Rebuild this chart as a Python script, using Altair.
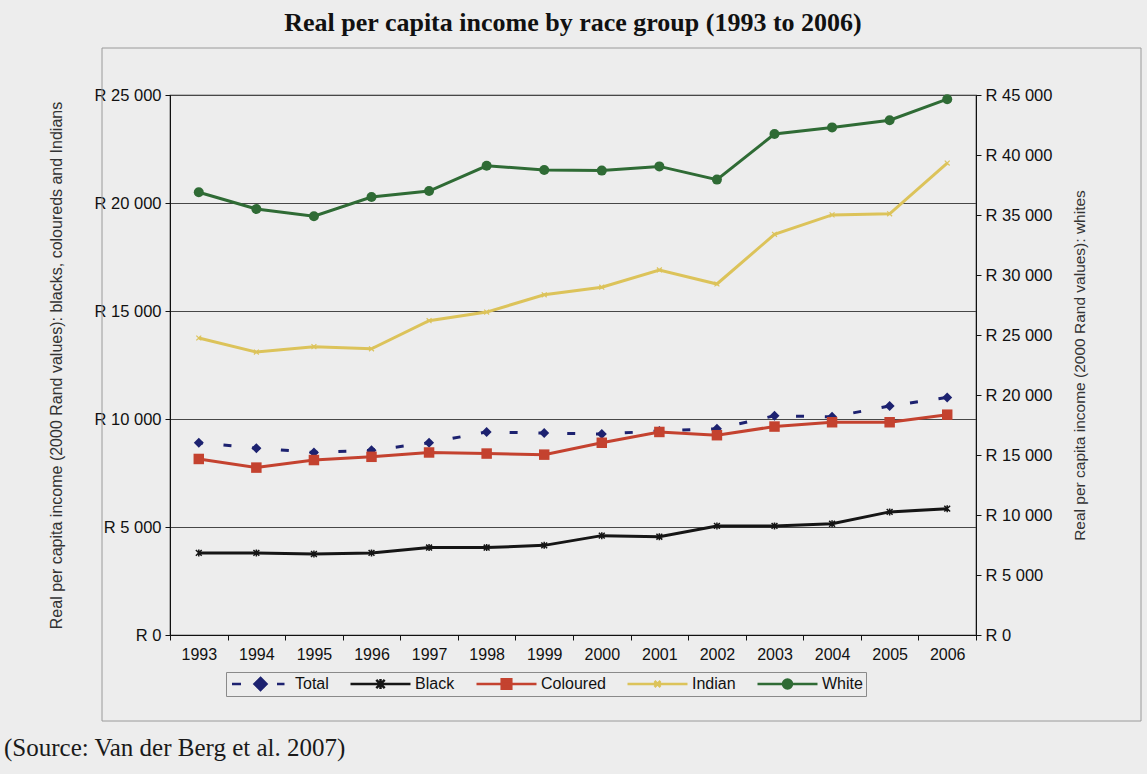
import altair as alt
import pandas as pd

# Real per capita income (2000 Rand values), 1993-2006
years = [1993, 1994, 1995, 1996, 1997, 1998, 1999, 2000, 2001, 2002, 2003, 2004, 2005, 2006]
total = [8900, 8650, 8450, 8550, 8900, 9400, 9350, 9300, 9450, 9550, 10150, 10100, 10600, 11000]
black = [3800, 3800, 3750, 3800, 4050, 4050, 4150, 4600, 4550, 5050, 5050, 5150, 5700, 5850]
coloured = [8150, 7750, 8100, 8250, 8450, 8400, 8350, 8900, 9400, 9250, 9650, 9850, 9850, 10200]
indian = [13750, 13100, 13350, 13250, 14550, 14950, 15750, 16100, 16900, 16250, 18550, 19450, 19500, 21850]
white = [36900, 35500, 34900, 36500, 37000, 39100, 38750, 38700, 39050, 37950, 41750, 42300, 42900, 44650]

series_names = ["Total", "Black", "Coloured", "Indian", "White"]
series_values = [total, black, coloured, indian, white]
series_colors = ["#1d2270", "#151515", "#c4422f", "#dcc35a", "#2f6b35"]

rows = []
for name, vals in zip(series_names, series_values):
    for yr, v in zip(years, vals):
        rows.append({"year": str(yr), "series": name, "value": v})
df = pd.DataFrame(rows)

FONT = "Liberation Sans"
W, H = 806, 540
LEFT, TOP = 170, 95

asterisk = "M-1,-1L1,1M-1,1L1,-1M0,-1.2V1.2"
small_x = "M-1,-1L1,1M-1,1L1,-1"

# marker / line style for every series
styles = {
    "Total": dict(line=dict(strokeWidth=3, strokeDash=[8, 20.8], strokeDashOffset=4),
                  point=dict(shape="diamond", filled=True, size=100)),
    "Black": dict(line=dict(strokeWidth=3),
                  point=dict(shape=asterisk, filled=False, size=34, strokeWidth=1.5)),
    "Coloured": dict(line=dict(strokeWidth=3),
                     point=dict(shape="square", filled=True, size=110)),
    "Indian": dict(line=dict(strokeWidth=3),
                   point=dict(shape=small_x, filled=False, size=24, strokeWidth=1.2)),
    "White": dict(line=dict(strokeWidth=3),
                  point=dict(shape="circle", filled=True, size=100)),
}

# legend swatches: line segment plus the series marker
legend_paths = [
    "M-0.95,0H-0.65M0.55,0H0.8M0,-0.2L0.2,0L0,0.2L-0.2,0Z",
    "M-1,0H1M-0.14,-0.14L0.14,0.14M-0.14,0.14L0.14,-0.14M0,-0.17V0.17",
    "M-1,0H1M-0.16,-0.16H0.16V0.16H-0.16Z",
    "M-1,0H1M-0.1,-0.1L0.1,0.1M-0.1,0.1L0.1,-0.1",
    "M-1,0H1M0.15,0A0.15,0.15,0,1,1,-0.15,0A0.15,0.15,0,1,1,0.15,0Z",
]

rand_label = "'R ' + replace(format(datum.value, ','), ',', ' ')"

x_enc = alt.X(
    "year:O",
    scale=alt.Scale(type="band", paddingInner=0, paddingOuter=0),
    axis=alt.Axis(title=None, labelAngle=0, tickBand="extent", labelFontSize=16,
                  labelFont=FONT, labelColor="#111", labelPadding=6,
                  domainColor="#111", tickColor="#111", tickSize=5),
)

left_axis = alt.Axis(
    title="Real per capita income (2000 Rand values): blacks, coloureds and Indians",
    values=list(range(0, 25001, 5000)), labelExpr=rand_label,
    grid=True, gridColor="#474747", gridWidth=1,
    domainColor="#111", tickColor="#111", tickSize=5,
    labelFont=FONT, labelFontSize=16.5, labelColor="#111", labelPadding=4,
    titleFont=FONT, titleFontSize=16, titleFontWeight="normal", titleColor="#333",
    titlePadding=30,
)
right_axis = alt.Axis(
    orient="right",
    title="Real per capita income (2000 Rand values): whites",
    values=list(range(0, 45001, 5000)), labelExpr=rand_label,
    grid=False, domainColor="#111", tickColor="#111", tickSize=5,
    labelFont=FONT, labelFontSize=16.5, labelColor="#111", labelPadding=4,
    titleFont=FONT, titleFontSize=15.5, titleFontWeight="normal", titleColor="#333",
    titlePadding=36, titleAngle=270,
)

y_left = alt.Y("value:Q", scale=alt.Scale(domain=[0, 25000]), axis=left_axis)
y_right = alt.Y("value:Q", scale=alt.Scale(domain=[0, 45000]), axis=right_axis)


def series_layers(name, color, y_enc):
    base = alt.Chart(df).transform_filter(alt.datum.series == name)
    st = styles[name]
    line = base.mark_line(color=color, **st["line"]).encode(x=x_enc, y=y_enc)
    pts = base.mark_point(color=color, opacity=1, **st["point"]).encode(x=x_enc, y=y_enc)
    return [line, pts]


# outer chart frame and source note
one = pd.DataFrame({"k": [0]})
frame = alt.Chart(one).mark_rect(fillOpacity=0, stroke="#9a9a9a", strokeWidth=1).encode(
    x=alt.value(-68), x2=alt.value(W + 165), y=alt.value(-47), y2=alt.value(H + 86)
)
source = alt.Chart(one).mark_text(
    text="(Source: Van der Berg et al. 2007)", font="Liberation Serif", fontSize=25,
    align="left", baseline="middle", color="#1a1a1a",
).encode(x=alt.value(-166), y=alt.value(H + 113))

legend = alt.Legend(
    title=None, orient="none", legendX=56, legendY=H + 37, direction="horizontal",
    columns=5, symbolSize=3600, symbolStrokeWidth=2.5, clipHeight=18,
    labelFont=FONT, labelFontSize=16, labelColor="#111", labelOffset=3,
    columnPadding=20, padding=3, strokeColor="#8a8a8a",
)
legend_layer = alt.Chart(df).transform_filter("datum.value < 0").mark_point(
    filled=True, strokeWidth=2.5, opacity=1
).encode(
    fill=alt.Fill("series:N", scale=alt.Scale(domain=series_names, range=series_colors), legend=legend),
    stroke=alt.Stroke("series:N", scale=alt.Scale(domain=series_names, range=series_colors), legend=legend),
    shape=alt.Shape("series:N", scale=alt.Scale(domain=series_names, range=legend_paths), legend=legend),
)

left = [frame, source]
for name, color in zip(series_names[:4], series_colors[:4]):
    left += series_layers(name, color, y_left)
left.append(legend_layer)
right = series_layers("White", series_colors[4], y_right)

chart = (
    alt.layer(alt.layer(*left), alt.layer(*right))
    .resolve_scale(y="independent")
    .properties(
        width=W, height=H,
        padding={"left": LEFT, "top": TOP, "right": 1147 - LEFT - W, "bottom": 774 - TOP - H},
        autosize=alt.AutoSizeParams(type="none"),
        title=alt.TitleParams(
            "Real per capita income by race group (1993 to 2006)",
            font="Liberation Serif", fontSize=26, fontWeight="bold", color="#111",
            offset=12, frame="group", anchor="middle",
        ),
    )
    .configure(background="#ededed")
    .configure_view(stroke="#222", strokeWidth=1.2)
)

chart.save("out.html", embed_options={"renderer": "svg", "actions": False})
